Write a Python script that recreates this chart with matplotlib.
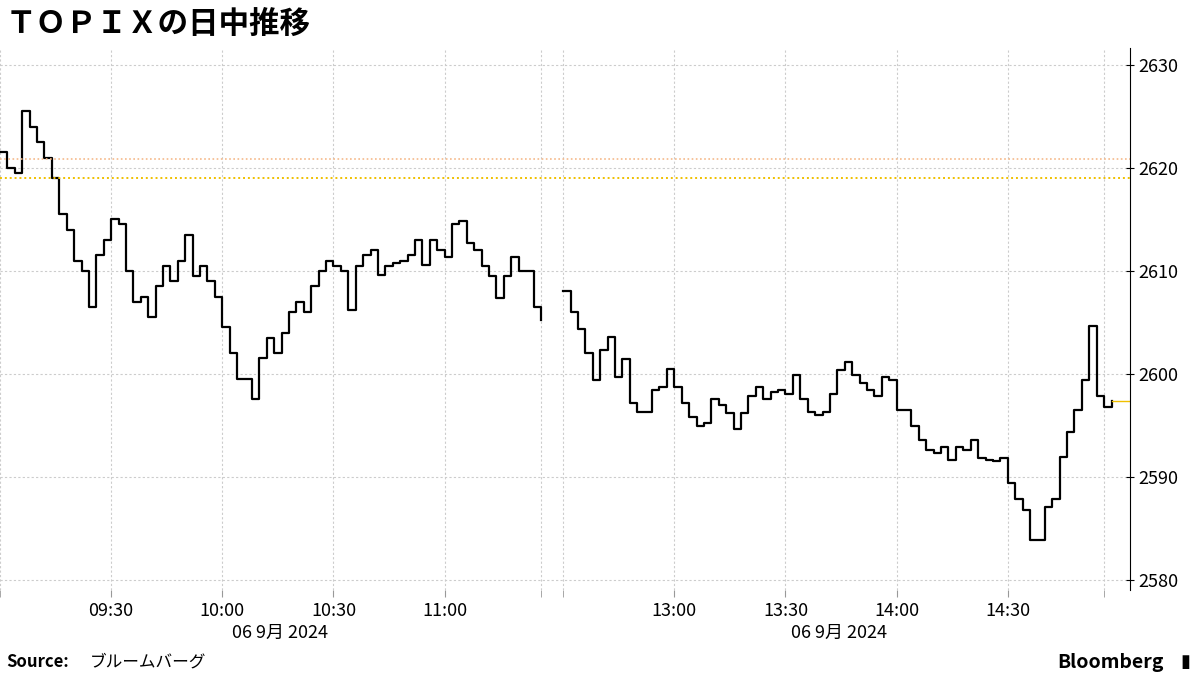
import matplotlib
matplotlib.use("Agg")
import matplotlib.pyplot as plt
import numpy as np

plt.rcParams['font.family'] = ['Noto Sans CJK JP', 'DejaVu Sans']

# 2-minute samples, morning session from 09:00, afternoon from 12:30
am_values = [2621.5, 2620, 2619.5, 2625.5, 2624, 2622.5, 2621, 2619, 2615.5, 2614,
             2611, 2610, 2606.5, 2611.5, 2613, 2615, 2614.5, 2610, 2607, 2607.5,
             2605.5, 2608.5, 2610.5, 2609, 2611, 2613.5, 2609.5, 2610.5, 2609, 2607.5,
             2604.5, 2602, 2599.5, 2599.5, 2597.5, 2601.5, 2603.5, 2602, 2604, 2606,
             2607, 2606, 2608.5, 2610, 2611, 2610.5, 2610, 2606.2, 2610.5, 2611.5,
             2612, 2609.6, 2610.5, 2610.8, 2611, 2611.5, 2613, 2610.6, 2613, 2612,
             2611.3, 2614.5, 2614.8, 2612.7, 2612, 2610.5, 2609.5, 2607.4, 2609.5, 2611.3,
             2610, 2610, 2606.5, 2605.2]
pm_values = [2608, 2606, 2604.3, 2602, 2599.4, 2602.3, 2603.6, 2599.7, 2601.4, 2597.2,
             2596.3, 2596.3, 2598.4, 2598.7, 2600.5, 2598.7, 2597.2, 2595.8, 2594.9, 2595.2,
             2597.5, 2597, 2596.2, 2594.6, 2596.2, 2597.8, 2598.7, 2597.5, 2598.2, 2598.4,
             2598, 2599.9, 2597.5, 2596.3, 2596, 2596.3, 2598, 2600.4, 2601.1, 2599.9,
             2599.1, 2598.4, 2597.8, 2599.7, 2599.4, 2596.5, 2596.5, 2594.9, 2593.6, 2592.6,
             2592.3, 2592.9, 2591.6, 2592.9, 2592.6, 2593.6, 2591.8, 2591.6, 2591.5, 2591.8,
             2589.4, 2587.8, 2586.8, 2583.9, 2583.9, 2587.1, 2587.8, 2591.9, 2594.3, 2596.5,
             2599.4, 2604.6, 2597.8, 2596.8, 2597.4]
last_value = 2597.4
prev_close_a = 2620.9
prev_close_b = 2619.0
tick_labels = ["09:30", "10:00", "10:30", "11:00", "13:00", "13:30", "14:00", "14:30"]
date_label = "06 9月 2024"

PM_OFFSET = 152  # compressed lunch break (minutes index)
am_x = np.arange(len(am_values)) * 2
pm_x = PM_OFFSET + np.arange(len(pm_values)) * 2

fig = plt.figure(figsize=(12, 6.75), dpi=100)
ax = fig.add_axes([0.0, 0.126, 0.9417, 0.803])

ax.plot(am_x, am_values, drawstyle='steps-post', color='black', lw=1.6)
ax.plot(pm_x, pm_values, drawstyle='steps-post', color='black', lw=1.6)
ax.axhline(prev_close_a, color='#f5b98a', lw=1.2, ls=(0, (1, 1.5)))
ax.axhline(prev_close_b, color='#f0c000', lw=1.4, ls=(0, (1, 1.5)))
ax.plot([pm_x[-1], 305], [last_value, last_value], color='#f0c000', lw=1)

ax.set_xlim(0, 305)
ax.set_ylim(2579.0, 2631.65)

major = [30, 60, 90, 120, PM_OFFSET + 30, PM_OFFSET + 60, PM_OFFSET + 90, PM_OFFSET + 120]
ax.set_xticks(major)
ax.set_xticklabels(tick_labels, fontsize=13)
ax.set_xticks([0, 146, PM_OFFSET, 298], minor=True)
ax.tick_params(axis='x', which='both', length=5, color='#999999', pad=4)
ax.grid(True, which='both', axis='x', color='#cccccc', ls=(0, (2, 2)), lw=0.8)
ax.grid(True, which='major', axis='y', color='#cccccc', ls=(0, (2, 2)), lw=0.8)

ax.yaxis.tick_right()
ax.set_yticks([2580, 2590, 2600, 2610, 2620, 2630])
ax.tick_params(axis='y', labelsize=13, length=6, direction='inout', pad=3)
for s in ['top', 'left']:
    ax.spines[s].set_visible(False)
ax.spines['bottom'].set_visible(False)
ax.spines['right'].set_color('black')

ax.text(75.5, -0.063, date_label, transform=ax.get_xaxis_transform(), ha='center', va='top', fontsize=13)
ax.text(PM_OFFSET + 74.5, -0.063, date_label, transform=ax.get_xaxis_transform(), ha='center', va='top', fontsize=13)

fig.text(0.005, 0.965, "ＴＯＰＩＸの日中推移", fontsize=22, fontweight='bold', va='center', ha='left')
fig.text(0.005, 0.019, "Source:", fontsize=12, fontweight='bold', va='center', ha='left')
fig.text(0.075, 0.019, "ブルームバーグ", fontsize=12, va='center', ha='left')
fig.text(0.97, 0.019, "Bloomberg", fontsize=14, fontweight='bold', va='center', ha='right')
fig.text(0.988, 0.019, "▮", fontsize=13, va='center', ha='center', family=['DejaVu Sans'])

fig.savefig("out.png", dpi=100)
